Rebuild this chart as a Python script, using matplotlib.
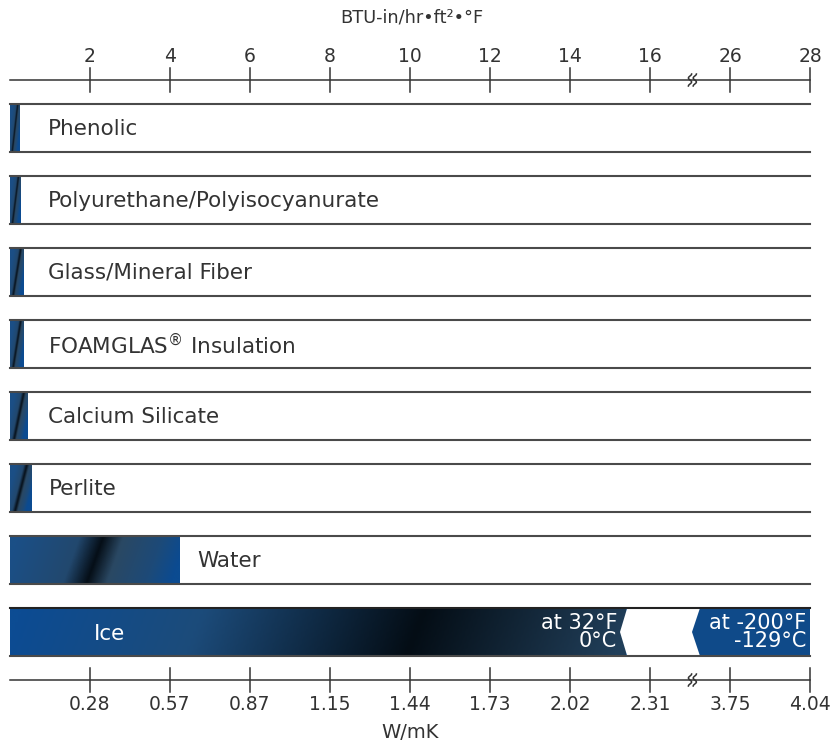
import numpy as np
import matplotlib.pyplot as plt
from matplotlib.colors import LinearSegmentedColormap
from matplotlib.patches import Polygon, Rectangle

# Thermal conductivity, BTU-in/hr-ft2-F
materials = ["Phenolic", "Polyurethane/Polyisocyanurate", "Glass/Mineral Fiber",
             r"FOAMGLAS$^{\circledR}$ Insulation", "Calcium Silicate", "Perlite", "Water"]
k_btu = [0.25, 0.27, 0.35, 0.35, 0.45, 0.55, 4.25]

# Ice: at 32F and at -200F
ice_k = [15.4, 28]
ice_labels = ["at 32°F\n0°C", "at -200°F\n-129°C"]

# Axis ticks (top in BTU, bottom in W/mK)
top_ticks = [2, 4, 6, 8, 10, 12, 14, 16, 26, 28]
bottom_labels = ["0.28", "0.57", "0.87", "1.15", "1.44", "1.73", "2.02", "2.31", "3.75", "4.04"]

# broken scale: everything above the break is shifted left by 8 units
BREAK_LO, BREAK_HI = 16, 26
def pos(v):
    return v if v <= BREAK_LO + 1.05 else v - (BREAK_HI - 18)

text_col = "#333333"
line_col = "#4a4a4a"
plt.rcParams["font.family"] = ["DejaVu Sans"]

fig = plt.figure(figsize=(8.33, 7.44), dpi=100)
ax = fig.add_axes([0, 0, 1, 1])
ax.set_xlim(-0.25, 20.575)
ax.set_ylim(744, 0)
ax.axis("off")

bar_cmap = LinearSegmentedColormap.from_list("bar", [
    (0.0, "#1b4f86"), (0.36, "#22486e"), (0.5, "#050e17"),
    (0.62, "#2a4863"), (0.85, "#1d4a78"), (1.0, "#0b4b91")])
ice_cmap = LinearSegmentedColormap.from_list("ice", [
    (0.0, "#0c4c93"), (0.3, "#1c4b7a"), (0.66, "#040d15"), (1.0, "#213f5a")])

def gradient(w=200, h=50, slant=0.12):
    xs = np.linspace(0, 1, w)[None, :]
    rows = np.linspace(0, 1, h)[:, None]
    return np.clip(xs + slant * (rows - 0.5), 0, 1)

row0, row_step, row_h = 104, 72, 48
x_end = pos(28)

for i, (name, k) in enumerate(zip(materials, k_btu)):
    top = row0 + i * row_step
    bot = top + row_h
    ax.imshow(gradient(slant=0.55 if k < 1 else 0.1), cmap=bar_cmap, vmin=0, vmax=1,
              aspect="auto", extent=[0, pos(k), bot, top], interpolation="bilinear", zorder=1)
    ax.plot([0, x_end], [top, top], color=line_col, lw=1.5, zorder=3)
    ax.plot([0, x_end], [bot, bot], color=line_col, lw=1.5, zorder=3)
    ax.text(max(0.95, pos(k) + 0.42), (top + bot) / 2 + 1, name, fontsize=15.5,
            color=text_col, va="center", ha="left", zorder=4)

# Ice bar
top = row0 + len(materials) * row_step
bot = top + row_h
mid = (top + bot) / 2
ax.imshow(gradient(slant=0.03), cmap=ice_cmap, vmin=0, vmax=1, aspect="auto",
          extent=[0, pos(ice_k[0]), bot, top], interpolation="bilinear", zorder=1)
ax.add_patch(Rectangle((pos(ice_k[0]) - 0.2, top), x_end - pos(ice_k[0]) + 0.2, row_h,
                       facecolor="#0f4a89", edgecolor="none", zorder=0.5))
gap_r = 17.25
ax.add_patch(Polygon([(pos(ice_k[0]) + 0.03, top), (pos(ice_k[0]) - 0.15, mid),
                      (pos(ice_k[0]) + 0.03, bot), (gap_r, bot), (gap_r - 0.2, mid),
                      (gap_r, top)], closed=True, facecolor="white",
                     edgecolor="none", zorder=2))
ax.plot([0, x_end], [top, top], color="#222222", lw=1.5, zorder=3)
ax.plot([0, x_end], [bot, bot], color=line_col, lw=1.5, zorder=3)
ax.text(2.5, mid + 2, "Ice", fontsize=15.5, color="white", ha="center", va="center", zorder=4)
ax.text(pos(ice_k[0]) - 0.22, mid, ice_labels[0], fontsize=15, color="white",
        ha="right", va="center", multialignment="right", linespacing=0.9, zorder=4)
ax.text(pos(ice_k[1]) - 0.1, mid, ice_labels[1], fontsize=15, color="white",
        ha="right", va="center", multialignment="right", linespacing=0.9, zorder=4)

# Axes (top: BTU, bottom: W/mK)
def draw_axis(y, labels, label_dy):
    ax.plot([0, x_end], [y, y], color=text_col, lw=1.1)
    for t, lab in zip(top_ticks, labels):
        ax.plot([pos(t), pos(t)], [y - 12, y + 12], color=text_col, lw=1.1)
        ax.text(pos(t), y + label_dy, lab, fontsize=13.5, color=text_col,
                ha="center", va="center")
    # break mark
    wy = np.linspace(y - 6, y + 6, 30)
    for dx in (17.0, 17.12):
        ax.plot(dx + 0.04 * np.sin((wy - y) / 6 * np.pi * 1.5), wy,
                color=text_col, lw=1.1, zorder=5)

draw_axis(80, [str(t) for t in top_ticks], -23)
draw_axis(680, bottom_labels, 25)

ax.text(pos(10.05), 18, "BTU-in/hr•ft²•°F", fontsize=12.8, color=text_col,
        ha="center", va="center")
ax.text(pos(10.0), 733, "W/mK", fontsize=14, color=text_col, ha="center", va="center")

fig.savefig("out.png", dpi=100)
